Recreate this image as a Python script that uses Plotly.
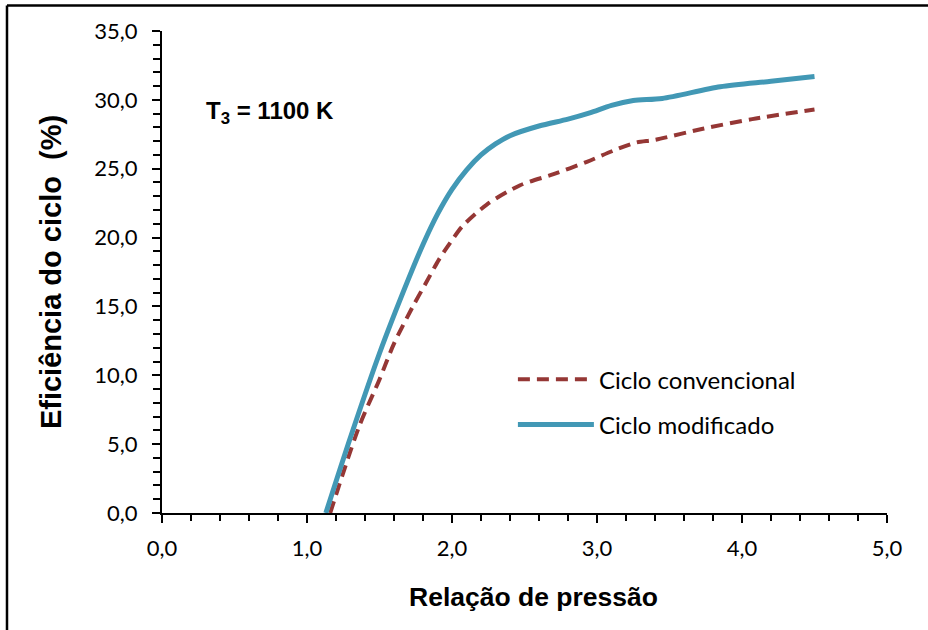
import plotly.graph_objects as go

# Data
x_conv = [1.16, 1.36, 1.50, 1.60, 1.73, 1.82, 1.91, 1.98, 2.07, 2.24, 2.47, 2.70, 2.93, 3.11, 3.27, 3.40, 3.73, 4.07, 4.50]
y_conv = [0.0, 6.3, 9.7, 12.3, 15.0, 16.7, 18.4, 19.5, 20.8, 22.4, 23.8, 24.6, 25.5, 26.3, 26.9, 27.1, 27.9, 28.6, 29.3]

x_mod = [1.13, 1.30, 1.50, 1.70, 1.80, 1.90, 2.00, 2.10, 2.20, 2.30, 2.40, 2.60, 2.80, 2.95, 3.10, 3.25, 3.45, 3.85, 4.20, 4.50]
y_mod = [0.0, 5.5, 11.6, 17.0, 19.5, 21.7, 23.5, 24.9, 26.0, 26.8, 27.4, 28.1, 28.6, 29.05, 29.6, 29.95, 30.1, 30.95, 31.35, 31.7]

series_names = ["Ciclo convencional", "Ciclo modificado"]
x_title = "Relação de pressão"
y_title = "Eficiência do ciclo\u00a0\u00a0(%)"
note_text = "<b>T<sub>3</sub> = 1100 K</b>"

TICK_FONT = dict(family="Lato, 'Open Sans', sans-serif", size=22, color="#000000")
X_TITLE_FONT = dict(family="'Liberation Sans', Arial, sans-serif", size=26.5, color="#000000")
Y_TITLE_FONT = dict(family="'Liberation Sans', Arial, sans-serif", size=29, color="#000000")

fig = go.Figure()
fig.add_trace(go.Scatter(
    x=x_conv, y=y_conv, mode="lines", name=series_names[0],
    line=dict(color="#953735", width=4, dash="12px,7px", shape="spline", smoothing=0.8),
    legendgroup="a",
))
fig.add_trace(go.Scatter(
    x=x_mod, y=y_mod, mode="lines", name=series_names[1],
    line=dict(color="#4298B5", width=5, shape="spline", smoothing=0.8),
    legendgroup="b",
))

fig.update_layout(
    width=928, height=630,
    margin=dict(l=162, r=41, t=31, b=117),
    paper_bgcolor="white", plot_bgcolor="white",
    separators=",.",
    showlegend=True,
    legend=dict(
        x=0.484, y=0.23, xanchor="left", yanchor="middle",
        font=dict(family="Lato, 'Open Sans', sans-serif", size=24, color="#000000"),
        bgcolor="rgba(0,0,0,0)", tracegroupgap=11, itemwidth=76,
    ),
    xaxis=dict(
        range=[0, 5], dtick=1, tickformat=".1f",
        showgrid=False, zeroline=False,
        showline=True, linecolor="black", linewidth=2,
        ticks="outside", ticklen=8, tickwidth=2, tickcolor="black",
        minor=dict(dtick=0.2, ticks="outside", ticklen=6, tickwidth=2, tickcolor="black"),
        tickfont=TICK_FONT, ticklabelstandoff=7,
    ),
    yaxis=dict(
        range=[0, 35], dtick=5, tickformat=".1f",
        showgrid=False, zeroline=False,
        showline=True, linecolor="black", linewidth=2,
        ticks="outside", ticklen=8, tickwidth=2, tickcolor="black",
        minor=dict(dtick=1, ticks="outside", ticklen=7, tickwidth=2, tickcolor="black"),
        tickfont=TICK_FONT, ticklabelstandoff=10,
        title=dict(text="<b>" + y_title + "</b>", font=Y_TITLE_FONT, standoff=24),
    ),
    xaxis2=dict(
        overlaying="x", matches="x", anchor="y", side="bottom", range=[0, 5], dtick=1,
        showgrid=False, zeroline=False, showline=False, showticklabels=False,
        ticks="inside", ticklen=7, tickwidth=2, tickcolor="black",
    ),
    yaxis2=dict(
        overlaying="y", matches="y", anchor="x", side="left", range=[0, 35], dtick=5,
        showgrid=False, zeroline=False, showline=False, showticklabels=False,
        ticks="inside", ticklen=8, tickwidth=2, tickcolor="black",
    ),
    annotations=[
        dict(
            text=note_text, xref="paper", yref="paper", x=0.058, y=0.83,
            xanchor="left", yanchor="middle", showarrow=False,
            font=dict(family="'Liberation Sans', Arial, sans-serif", size=24, color="#000000"),
        ),
        dict(
            text="<b>" + x_title + "</b>", xref="paper", yref="paper", x=0.513, y=-0.174,
            xanchor="center", yanchor="middle", showarrow=False, font=X_TITLE_FONT,
        ),
    ],
    shapes=[
        dict(type="line", xref="paper", yref="paper", x0=-0.2138, x1=1.06, y0=1.0529, y1=1.0529,
             line=dict(color="black", width=2.5)),
        dict(type="line", xref="paper", yref="paper", x0=-0.2138, x1=-0.2138, y0=1.0529, y1=-0.25,
             line=dict(color="black", width=2.5)),
    ],
)

fig.write_html("out.html")
